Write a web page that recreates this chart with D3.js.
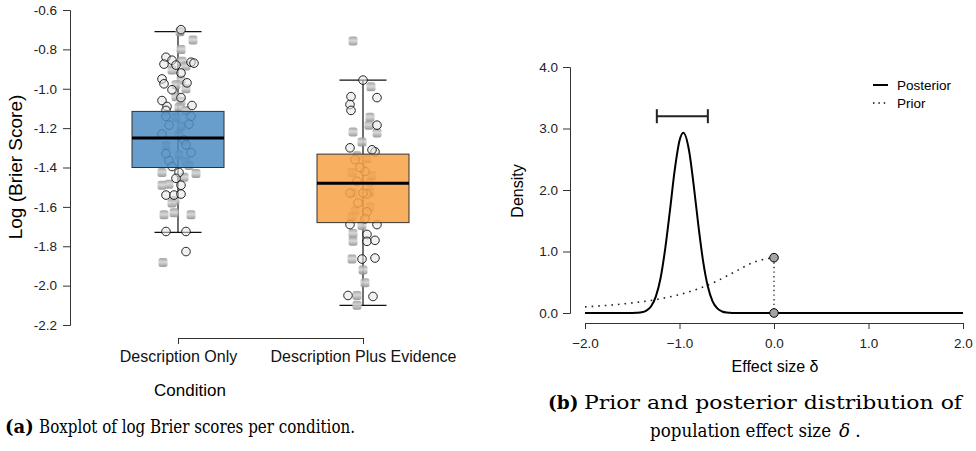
<!DOCTYPE html>
<html>
<head>
<meta charset="utf-8">
<script src="https://cdn.jsdelivr.net/npm/d3@7"></script>
<style>
  body { margin: 0; background: #fff; }
  svg { display: block; }
</style>
</head>
<body>
<script>
// ---------- panel (a): boxplot data ----------
const conditions = ["Description Only", "Description Plus Evidence"];
const boxColors = ["#4d8dc2", "#f7a244"];
const whiskerHigh = [-0.71, -0.956];
const upperQuartile = [-1.115, -1.332];
const medians = [-1.25, -1.48];
const lowerQuartile = [-1.40, -1.68];
const whiskerLow = [-1.73, -2.10];
const brierTicks = [-0.6, -0.8, -1.0, -1.2, -1.4, -1.6, -1.8, -2.0, -2.2];

// individual log Brier scores, jitter (fraction of spread) and point kind
const onlyScores = [-0.70, -0.71, -0.753, -0.80, -0.84, -0.855, -0.86, -0.865, -0.875, -0.88,
  -0.885, -0.87, -0.905, -0.92, -0.95, -0.955, -0.975, -0.98, -0.97, -1.0,
  -1.005, -1.04, -1.045, -1.06, -1.065, -1.09, -1.095, -1.085, -1.11, -1.11,
  -1.14, -1.145, -1.14, -1.185, -1.19, -1.18, -1.23, -1.235, -1.26, -1.29,
  -1.285, -1.33, -1.335, -1.325, -1.365, -1.37, -1.395, -1.39, -1.425, -1.425,
  -1.43, -1.455, -1.45, -1.485, -1.49, -1.49, -1.54, -1.54, -1.535, -1.567,
  -1.58, -1.64, -1.63, -1.64, -1.725, -1.725, -1.827, -1.883];
const onlyJitter = [0.15, 0.1, 0.75, 0.15, -0.6, -0.3, 0.2, 0.65, -0.7, -0.1,
  0.4, 0.8, -0.3, 0.15, -0.8, 0.15, -0.7, -0.1, 0.45, 0.4,
  -0.3, -0.1, 0.15, -0.8, 0.15, -0.55, 0.05, 0.7, -0.6, 0.4,
  -0.6, -0.1, 0.65, -0.45, 0.15, 0.55, -0.8, 0.05, 0.3, -0.6,
  0.4, -0.6, 0.05, 0.65, -0.45, 0.4, -0.3, 0.55, -0.8, 0.05,
  0.9, -0.1, 0.3, -0.45, 0.15, -0.8, -0.6, -0.2, 0.15, -0.15,
  -0.3, -0.7, -0.2, 0.65, -0.6, 0.4, 0.4, -0.75];
const onlyKind = ["c","s","s","s","c","c","s","c","c","c",
  "s","c","s","c","c","s","c","s","c","s",
  "c","s","c","c","s","c","s","c","c","s",
  "c","s","c","c","s","c","c","s","c","s",
  "c","c","s","c","c","s","c","s","s","c",
  "s","c","s","s","c","s","c","c","c","s",
  "s","s","s","s","c","c","c","s"];

const evidenceScores = [-0.758, -0.956, -0.99, -1.04, -1.045, -1.08, -1.11, -1.145, -1.185, -1.185,
  -1.22, -1.225, -1.27, -1.30, -1.32, -1.36, -1.355, -1.425, -1.42, -1.47,
  -1.475, -1.53, -1.535, -1.53, -1.53, -1.525, -1.62, -1.625, -1.69, -1.695,
  -1.69, -1.735, -1.74, -1.775, -1.775, -1.77, -1.865, -1.865, -1.86, -1.92,
  -1.985, -2.05, -2.05, -2.055, -2.10, -1.40, -1.44, -1.58, -1.60, -1.65,
  -1.66, -1.31, -1.34];
const evidenceJitter = [-0.5, 0, 0.4, -0.6, 0.7, -0.65, -0.6, 0.35, 0.3, 0.7,
  -0.5, 0.7, -0.05, -0.65, 0.6, -0.4, 0.2, -0.55, 0.1, -0.3,
  0.35, -0.5, 0.2, -0.65, 0, 0.35, -0.4, 0.2, -0.65, -0.05,
  0.7, -0.5, 0.2, -0.5, 0.2, 0.6, -0.55, -0.05, 0.6, 0,
  0.1, -0.75, -0.3, 0.5, -0.3, -0.15, 0.45, -0.25, 0.35, -0.55,
  0.1, 0.45, -0.3];
const evidenceKind = ["s","c","s","c","c","c","c","s","s","c",
  "s","s","s","c","c","c","s","s","c","c",
  "s","s","c","c","c","s","s","c","c","s",
  "c","s","c","s","c","c","s","c","c","s",
  "s","c","s","c","s","c","s","c","s","s",
  "c","c","s"];

// ---------- panel (b): prior / posterior densities ----------
const posteriorX = [-2.0, -1.8, -1.6, -1.5, -1.45, -1.4, -1.35, -1.3, -1.25, -1.2, -1.15, -1.1,
  -1.05, -1.0, -0.96, -0.9, -0.85, -0.8, -0.75, -0.7, -0.65, -0.6, -0.55, -0.5, -0.45, -0.4,
  -0.2, 0.0, 0.5, 1.0, 1.5, 2.0];
const posteriorY = [0, 0, 0, 0.001, 0.004, 0.012, 0.04, 0.11, 0.27, 0.57, 1.06, 1.68,
  2.33, 2.80, 2.93, 2.65, 2.08, 1.42, 0.84, 0.43, 0.19, 0.075, 0.025, 0.007, 0.002, 0,
  0, 0, 0, 0, 0, 0];
const priorX = [-2.0, -1.8, -1.6, -1.4, -1.2, -1.0, -0.8, -0.6, -0.4, -0.2, 0.0];
const priorY = [0.100, 0.120, 0.147, 0.183, 0.232, 0.300, 0.395, 0.523, 0.682, 0.833, 0.900];
const priorZeroX = [0.0, 2.0];
const credibleInterval = [-1.24, -0.70];
const credibleHeight = 3.2;
const densityTicks = [0, 1, 2, 3, 4];
const effectTicks = [-2, -1, 0, 1, 2];
const legendLabels = ["Posterior", "Prior"];

const width = 976, height = 451;
const sans = "'Liberation Sans', Arial, sans-serif";
const serif = "'DejaVu Serif', 'Liberation Serif', serif";

const svg = d3.select("body").append("svg")
  .attr("width", width)
  .attr("height", height)
  .style("font-family", sans);

const defs = svg.append("defs");
const grad = defs.append("linearGradient")
  .attr("id", "pointShade")
  .attr("x1", 0).attr("y1", 0).attr("x2", 0).attr("y2", 1);
grad.append("stop").attr("offset", "0%").attr("stop-color", "#9c9c9c");
grad.append("stop").attr("offset", "45%").attr("stop-color", "#d4d4d4");
grad.append("stop").attr("offset", "100%").attr("stop-color", "#8f8f8f");

// ================= panel (a) =================
const ya = d3.scaleLinear().domain([-2.2, -0.6]).range([325, 10]);
const xa = d3.scalePoint().domain(conditions).range([178, 363]);
const boxHalf = 46, capHalf = 23.5, jitterSpread = 20;

const axA = svg.append("g")
  .attr("transform", "translate(70,0)")
  .call(d3.axisLeft(ya).tickValues(brierTicks).tickSize(7).tickPadding(6)
    .tickFormat(d => d.toFixed(1)));
axA.selectAll("text").style("font-size", "13.5px").attr("fill", "#222");

const axAx = svg.append("g")
  .attr("transform", "translate(0,338)")
  .call(d3.axisBottom(xa).tickSize(6).tickPadding(7));
axAx.selectAll("text").style("font-size", "16px").attr("fill", "#111");
svg.selectAll(".domain, .tick line").attr("stroke", "#333");

svg.append("text")
  .attr("transform", "translate(22,167) rotate(-90)")
  .attr("text-anchor", "middle")
  .style("font-size", "19px")
  .text("Log (Brier Score)");

svg.append("text")
  .attr("x", 190).attr("y", 396)
  .attr("text-anchor", "middle")
  .style("font-size", "17px")
  .text("Condition");

const groups = [
  { scores: onlyScores, jitter: onlyJitter, kind: onlyKind },
  { scores: evidenceScores, jitter: evidenceJitter, kind: evidenceKind }
];

conditions.forEach((cond, i) => {
  const cx = xa(cond);
  const g = svg.append("g");

  // whiskers
  g.append("line")
    .attr("x1", cx).attr("x2", cx)
    .attr("y1", ya(whiskerHigh[i])).attr("y2", ya(whiskerLow[i]))
    .attr("stroke", "#111").attr("stroke-width", 1.2);
  [whiskerHigh[i], whiskerLow[i]].forEach(w => {
    g.append("line")
      .attr("x1", cx - capHalf).attr("x2", cx + capHalf)
      .attr("y1", ya(w)).attr("y2", ya(w))
      .attr("stroke", "#111").attr("stroke-width", 1.2);
  });

  // jittered points
  const pts = groups[i].scores.map((v, k) => ({
    v, j: groups[i].jitter[k], kind: groups[i].kind[k]
  }));
  g.selectAll("rect.pt")
    .data(pts.filter(p => p.kind === "s"))
    .join("rect")
    .attr("class", "pt")
    .attr("x", p => cx + p.j * jitterSpread - 4.5)
    .attr("y", p => ya(p.v) - 4.5)
    .attr("width", 9).attr("height", 9)
    .attr("rx", 2.5)
    .attr("fill", "url(#pointShade)")
    .attr("opacity", 0.9);
  g.selectAll("circle.pt")
    .data(pts.filter(p => p.kind === "c"))
    .join("circle")
    .attr("class", "pt")
    .attr("cx", p => cx + p.j * jitterSpread)
    .attr("cy", p => ya(p.v))
    .attr("r", 4.3)
    .attr("fill", "#e6e6e6")
    .attr("fill-opacity", 0.55)
    .attr("stroke", "#111")
    .attr("stroke-width", 0.9);

  // box on top (semi-transparent so points show through)
  g.append("rect")
    .attr("x", cx - boxHalf)
    .attr("y", ya(upperQuartile[i]))
    .attr("width", boxHalf * 2)
    .attr("height", ya(lowerQuartile[i]) - ya(upperQuartile[i]))
    .attr("fill", boxColors[i])
    .attr("fill-opacity", 0.85)
    .attr("stroke", "#333")
    .attr("stroke-width", 1);

  g.append("line")
    .attr("x1", cx - boxHalf).attr("x2", cx + boxHalf)
    .attr("y1", ya(medians[i])).attr("y2", ya(medians[i]))
    .attr("stroke", "#000").attr("stroke-width", 3);
});

// ================= panel (b) =================
const xb = d3.scaleLinear().domain([-2, 2]).range([585, 963]);
const yb = d3.scaleLinear().domain([0, 4]).range([313, 67]);

const axBy = svg.append("g")
  .attr("transform", "translate(570,0)")
  .call(d3.axisLeft(yb).tickValues(densityTicks).tickSize(7).tickPadding(5)
    .tickFormat(d3.format(".1f")));
const axBx = svg.append("g")
  .attr("transform", "translate(0,323)")
  .call(d3.axisBottom(xb).tickValues(effectTicks).tickSize(6).tickPadding(9)
    .tickFormat(d3.format(".1f")));
[axBy, axBx].forEach(a => {
  a.selectAll("text").style("font-size", "13.5px").attr("fill", "#222");
  a.selectAll(".domain, .tick line").attr("stroke", "#333");
});

svg.append("text")
  .attr("transform", "translate(523,191) rotate(-90)")
  .attr("text-anchor", "middle")
  .style("font-size", "16px")
  .text("Density");

svg.append("text")
  .attr("x", 775).attr("y", 372)
  .attr("text-anchor", "middle")
  .style("font-size", "16px")
  .text("Effect size δ");

const line = d3.line()
  .x(d => xb(d[0]))
  .y(d => yb(d[1]))
  .curve(d3.curveMonotoneX);

const dotted = "1.6 5";

// prior (dotted), including the zero part for positive effects
svg.append("path")
  .datum(priorX.map((x, k) => [x, priorY[k]]))
  .attr("d", line)
  .attr("fill", "none")
  .attr("stroke", "#222")
  .attr("stroke-width", 1.6)
  .attr("stroke-dasharray", dotted);
svg.append("path")
  .datum(priorZeroX.map(x => [x, 0]))
  .attr("d", line)
  .attr("fill", "none")
  .attr("stroke", "#222")
  .attr("stroke-width", 1.6)
  .attr("stroke-dasharray", dotted);

// posterior
svg.append("path")
  .datum(posteriorX.map((x, k) => [x, posteriorY[k]]))
  .attr("d", line)
  .attr("fill", "none")
  .attr("stroke", "#000")
  .attr("stroke-width", 2);

// drop at zero
const lastPrior = priorY[priorY.length - 1];
svg.append("line")
  .attr("x1", xb(0)).attr("x2", xb(0))
  .attr("y1", yb(lastPrior)).attr("y2", yb(0))
  .attr("stroke", "#333")
  .attr("stroke-width", 1.4)
  .attr("stroke-dasharray", "1.4 3.2");
svg.selectAll("circle.sd")
  .data([lastPrior, 0])
  .join("circle")
  .attr("class", "sd")
  .attr("cx", xb(0))
  .attr("cy", d => yb(d))
  .attr("r", 4.3)
  .attr("fill", "#a3a3a3")
  .attr("stroke", "#000")
  .attr("stroke-width", 1);

// credible interval bar
const ciY = yb(credibleHeight);
svg.append("line")
  .attr("x1", xb(credibleInterval[0])).attr("x2", xb(credibleInterval[1]))
  .attr("y1", ciY).attr("y2", ciY)
  .attr("stroke", "#222").attr("stroke-width", 2);
credibleInterval.forEach(v => {
  svg.append("line")
    .attr("x1", xb(v)).attr("x2", xb(v))
    .attr("y1", ciY - 7).attr("y2", ciY + 7)
    .attr("stroke", "#222").attr("stroke-width", 2);
});

// legend
const legend = svg.append("g").attr("transform", "translate(873,85)");
legendLabels.forEach((lab, k) => {
  const row = legend.append("g").attr("transform", `translate(0,${k * 18})`);
  row.append("line")
    .attr("x1", 0).attr("x2", 15)
    .attr("stroke", "#000")
    .attr("stroke-width", k === 0 ? 2 : 1.4)
    .attr("stroke-dasharray", k === 0 ? null : "1.4 4");
  row.append("text")
    .attr("x", 24).attr("y", 5)
    .style("font-size", "13.5px")
    .text(lab);
});

// ================= captions =================
// bold label then body text fitted to the width seen in the figure
function caption(x, y, label, body, right, size) {
  let start = x;
  if (label) {
    const lab = svg.append("text")
      .attr("x", x).attr("y", y)
      .style("font-family", serif)
      .style("font-size", size + "px")
      .style("font-weight", "bold")
      .text(label);
    start = x + lab.node().getComputedTextLength() + size * 0.3;
  }
  return svg.append("text")
    .attr("x", start).attr("y", y)
    .style("font-family", serif)
    .style("font-size", size + "px")
    .attr("textLength", right - start)
    .attr("lengthAdjust", "spacingAndGlyphs")
    .text(body);
}

caption(5, 433, "(a)", "Boxplot of log Brier scores per condition.", 355, 18);
caption(548, 409, "(b)", "Prior and posterior distribution of", 962, 18.5);
caption(650, 437, null, "population effect size", 831, 18.5);
svg.append("text")
  .attr("x", 839).attr("y", 437)
  .style("font-family", serif)
  .style("font-size", "18.5px")
  .style("font-style", "italic")
  .text("δ");
svg.append("text")
  .attr("x", 855).attr("y", 437)
  .style("font-family", serif)
  .style("font-size", "18.5px")
  .text(".");
</script>
</body>
</html>
